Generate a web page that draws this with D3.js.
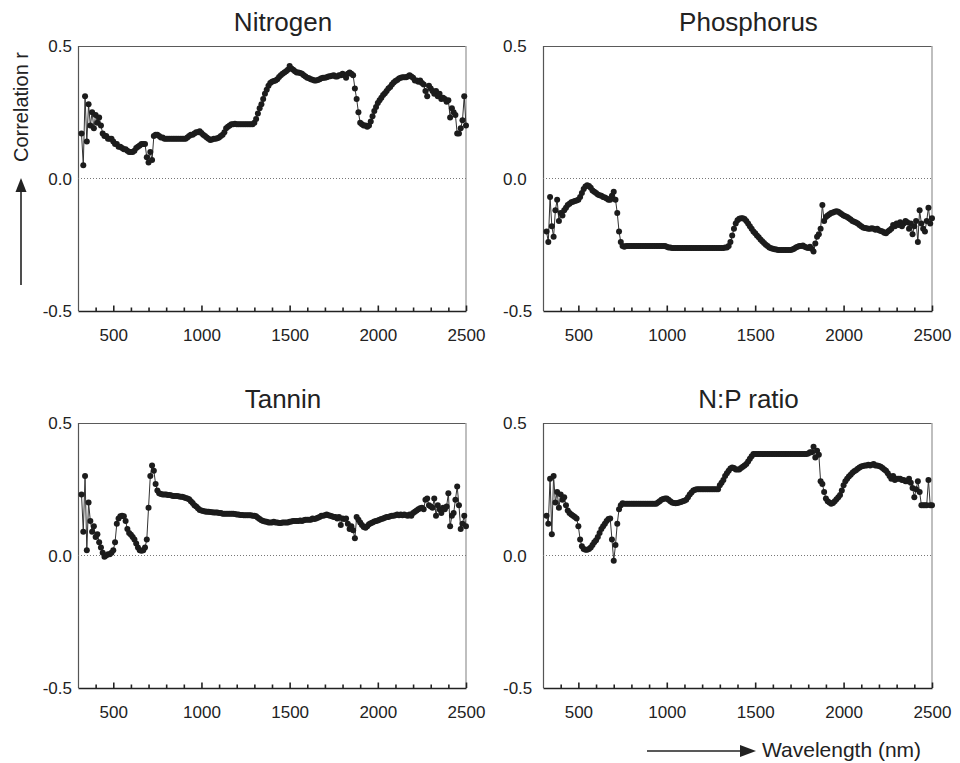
<!DOCTYPE html>
<html>
<head>
<meta charset="utf-8">
<script src="https://cdn.jsdelivr.net/npm/d3@7/dist/d3.min.js"></script>
<style>
  html, body { margin: 0; padding: 0; background: #fff; }
  svg { display: block; }
  text { font-family: "Liberation Sans", Arial, sans-serif; fill: #222; }
</style>
</head>
<body>
<svg id="chart" width="960" height="763"></svg>
<script>
// ---------- data ----------
const wavelengths = d3.range(320, 2501, 10); // nm, 320..2500

const nitrogen = [
  0.17, 0.05, 0.31, 0.14, 0.28, 0.20, 0.25, 0.19,
  0.24, 0.21, 0.23, 0.20, 0.17, 0.16, 0.16, 0.15, 0.15, 0.15,
  0.14, 0.13, 0.13, 0.12, 0.12, 0.115, 0.11, 0.11, 0.105, 0.10,
  0.10, 0.10, 0.105, 0.115, 0.12, 0.125, 0.13, 0.13, 0.13, 0.08,
  0.06, 0.10, 0.07, 0.16, 0.165, 0.165, 0.16, 0.155, 0.155, 0.15,
  0.15, 0.15, 0.15, 0.15, 0.15, 0.15, 0.15, 0.15, 0.15, 0.15,
  0.15, 0.15, 0.155, 0.16, 0.165, 0.165, 0.17, 0.175, 0.175, 0.178,
  0.172, 0.165, 0.16, 0.155, 0.15, 0.145, 0.147, 0.15, 0.15, 0.152,
  0.155, 0.16, 0.165, 0.175, 0.19, 0.195, 0.20, 0.205, 0.205, 0.207,
  0.205, 0.205, 0.205, 0.205, 0.205, 0.205, 0.205, 0.205, 0.205, 0.205,
  0.21, 0.225, 0.245, 0.265, 0.28, 0.30, 0.32, 0.335, 0.35, 0.36,
  0.365, 0.368, 0.37, 0.375, 0.383, 0.39, 0.395, 0.40, 0.405, 0.41,
  0.425, 0.415, 0.41, 0.405, 0.40, 0.40, 0.398, 0.395, 0.39, 0.385,
  0.38, 0.378, 0.375, 0.373, 0.37, 0.37, 0.372, 0.375, 0.378, 0.38,
  0.38, 0.382, 0.385, 0.386, 0.388, 0.39, 0.385, 0.385, 0.39, 0.39,
  0.395, 0.39, 0.38, 0.395, 0.40, 0.395, 0.39, 0.34, 0.30, 0.25,
  0.21, 0.205, 0.20, 0.20, 0.195, 0.20, 0.215, 0.235, 0.255, 0.27,
  0.285, 0.295, 0.305, 0.315, 0.322, 0.33, 0.34, 0.345, 0.355, 0.362,
  0.368, 0.372, 0.377, 0.38, 0.382, 0.382, 0.382, 0.385, 0.39, 0.385,
  0.38, 0.37, 0.37, 0.365, 0.37, 0.36, 0.355, 0.33, 0.31, 0.35,
  0.34, 0.33, 0.32, 0.33, 0.31, 0.32, 0.30, 0.305, 0.30, 0.29,
  0.295, 0.23, 0.265, 0.25, 0.24, 0.17, 0.17, 0.19, 0.22, 0.31,
  0.20
];

const phosphorus = [
  -0.20, -0.24, -0.07, -0.18, -0.22, -0.12, -0.08, -0.16,
  -0.13, -0.14, -0.12, -0.11, -0.10, -0.095, -0.09, -0.088, -0.085, -0.083,
  -0.08, -0.07, -0.055, -0.04, -0.03, -0.025, -0.028, -0.035, -0.045, -0.05,
  -0.055, -0.06, -0.063, -0.065, -0.07, -0.072, -0.075, -0.08, -0.08, -0.065,
  -0.05, -0.08, -0.13, -0.20, -0.24, -0.255, -0.258, -0.255, -0.255, -0.255,
  -0.255, -0.255, -0.255, -0.255, -0.255, -0.255, -0.255, -0.255, -0.255, -0.255,
  -0.255, -0.255, -0.255, -0.255, -0.255, -0.255, -0.255, -0.255, -0.255, -0.255,
  -0.258, -0.26, -0.26, -0.262, -0.262, -0.262, -0.262, -0.262, -0.262, -0.262,
  -0.262, -0.262, -0.262, -0.262, -0.262, -0.262, -0.262, -0.262, -0.262, -0.262,
  -0.262, -0.262, -0.262, -0.262, -0.262, -0.262, -0.262, -0.262, -0.262, -0.262,
  -0.262, -0.262, -0.262, -0.26, -0.26, -0.255, -0.24, -0.215, -0.19, -0.17,
  -0.158, -0.152, -0.15, -0.15, -0.153, -0.16, -0.17, -0.18, -0.19, -0.20,
  -0.207, -0.215, -0.222, -0.23, -0.237, -0.243, -0.25, -0.255, -0.26, -0.263,
  -0.265, -0.267, -0.268, -0.27, -0.27, -0.27, -0.27, -0.27, -0.27, -0.27,
  -0.27, -0.268, -0.265, -0.26, -0.258, -0.255, -0.255, -0.253, -0.258, -0.26,
  -0.262, -0.258, -0.265, -0.275, -0.245, -0.22, -0.21, -0.19, -0.10, -0.16,
  -0.145, -0.14, -0.135, -0.13, -0.128, -0.125, -0.124, -0.125, -0.13, -0.135,
  -0.14, -0.142, -0.145, -0.15, -0.155, -0.16, -0.163, -0.166, -0.17, -0.175,
  -0.18, -0.185, -0.187, -0.188, -0.19, -0.19, -0.188, -0.19, -0.193, -0.19,
  -0.195, -0.198, -0.20, -0.205, -0.207, -0.20, -0.195, -0.19, -0.175, -0.18,
  -0.17, -0.175, -0.165, -0.18, -0.17, -0.16, -0.165, -0.19, -0.17, -0.21,
  -0.18, -0.16, -0.24, -0.12, -0.17, -0.19, -0.20, -0.16, -0.11, -0.17,
  -0.15
];

const tannin = [
  0.23, 0.09, 0.30, 0.02, 0.20, 0.13, 0.09, 0.11,
  0.07, 0.08, 0.05, 0.03, 0.01, -0.005, 0.0, 0.005, 0.005, 0.01,
  0.02, 0.05, 0.12, 0.14, 0.148, 0.15, 0.148, 0.13, 0.10, 0.085,
  0.078, 0.07, 0.06, 0.045, 0.03, 0.02, 0.018, 0.02, 0.03, 0.06,
  0.18, 0.30, 0.34, 0.32, 0.27, 0.245, 0.235, 0.232, 0.23, 0.23,
  0.23, 0.228, 0.228, 0.226, 0.225, 0.225, 0.225, 0.224, 0.222, 0.222,
  0.22, 0.217, 0.215, 0.212, 0.205, 0.198, 0.19, 0.185, 0.178, 0.172,
  0.17, 0.168, 0.166, 0.165, 0.165, 0.164, 0.163, 0.162, 0.162, 0.162,
  0.16, 0.16, 0.158, 0.158, 0.158, 0.158, 0.158, 0.158, 0.158, 0.157,
  0.155, 0.155, 0.153, 0.153, 0.152, 0.152, 0.152, 0.152, 0.152, 0.15,
  0.15, 0.148, 0.142, 0.138, 0.133, 0.13, 0.128, 0.127, 0.125, 0.125,
  0.125, 0.127, 0.125, 0.125, 0.123, 0.123, 0.125, 0.125, 0.125, 0.125,
  0.127, 0.128, 0.13, 0.13, 0.13, 0.13, 0.132, 0.13, 0.133, 0.135,
  0.135, 0.135, 0.135, 0.14, 0.138, 0.14, 0.142, 0.145, 0.15, 0.15,
  0.152, 0.155, 0.152, 0.15, 0.148, 0.145, 0.145, 0.14, 0.145, 0.115,
  0.14, 0.138, 0.14, 0.12, 0.10, 0.11, 0.095, 0.065, 0.145, 0.135,
  0.125, 0.115, 0.108, 0.105, 0.11, 0.118, 0.122, 0.125, 0.128, 0.13,
  0.132, 0.135, 0.138, 0.14, 0.142, 0.145, 0.145, 0.148, 0.15, 0.15,
  0.152, 0.155, 0.152, 0.155, 0.152, 0.155, 0.152, 0.15, 0.155, 0.15,
  0.16, 0.165, 0.17, 0.175, 0.178, 0.18, 0.175, 0.21, 0.215, 0.19,
  0.185, 0.18, 0.215, 0.15, 0.19, 0.175, 0.16, 0.18, 0.175, 0.185,
  0.235, 0.11, 0.15, 0.16, 0.21, 0.26, 0.19, 0.10, 0.12, 0.15,
  0.11
];

const npRatio = [
  0.15, 0.12, 0.29, 0.08, 0.30, 0.20, 0.24, 0.18,
  0.23, 0.21, 0.22, 0.19, 0.17, 0.16, 0.155, 0.15, 0.145, 0.14,
  0.11, 0.06, 0.035, 0.025, 0.022, 0.022, 0.025, 0.03, 0.04, 0.05,
  0.058, 0.07, 0.085, 0.10, 0.11, 0.12, 0.13, 0.138, 0.14, 0.06,
  -0.02, 0.04, 0.12, 0.175, 0.19, 0.197, 0.195, 0.195, 0.195, 0.195,
  0.195, 0.195, 0.195, 0.195, 0.195, 0.195, 0.195, 0.195, 0.195, 0.195,
  0.195, 0.195, 0.195, 0.195, 0.195, 0.20, 0.205, 0.21, 0.213, 0.215,
  0.215, 0.21, 0.205, 0.20, 0.198, 0.197, 0.198, 0.20, 0.202, 0.205,
  0.207, 0.21, 0.22, 0.23, 0.238, 0.245, 0.248, 0.25, 0.25, 0.25,
  0.25, 0.25, 0.25, 0.25, 0.25, 0.25, 0.25, 0.25, 0.25, 0.25,
  0.265, 0.275, 0.285, 0.30, 0.31, 0.32, 0.328, 0.332, 0.33, 0.325,
  0.325, 0.325, 0.33, 0.335, 0.34, 0.345, 0.355, 0.365, 0.375, 0.383,
  0.383, 0.383, 0.383, 0.383, 0.383, 0.383, 0.383, 0.383, 0.383, 0.383,
  0.383, 0.383, 0.383, 0.383, 0.383, 0.383, 0.383, 0.383, 0.383, 0.383,
  0.383, 0.383, 0.383, 0.383, 0.383, 0.383, 0.383, 0.383, 0.383, 0.383,
  0.385, 0.39, 0.39, 0.41, 0.37, 0.395, 0.38, 0.28, 0.27, 0.24,
  0.215, 0.205, 0.20, 0.195, 0.198, 0.205, 0.212, 0.22, 0.228, 0.245,
  0.265, 0.28, 0.29, 0.298, 0.305, 0.312, 0.318, 0.322, 0.327, 0.332,
  0.336, 0.338, 0.34, 0.34, 0.342, 0.34, 0.342, 0.345, 0.34, 0.34,
  0.338, 0.335, 0.33, 0.325, 0.32, 0.31, 0.30, 0.29, 0.30, 0.285,
  0.29, 0.29, 0.29, 0.285, 0.285, 0.28, 0.28, 0.29, 0.275, 0.255,
  0.22, 0.25, 0.28, 0.24, 0.19, 0.19, 0.19, 0.19, 0.285, 0.19,
  0.19
];

const panelTitles = ["Nitrogen", "Phosphorus", "Tannin", "N:P ratio"];
const panelSeries = [nitrogen, phosphorus, tannin, npRatio];
const xDomain = [300, 2500];
const yDomain = [-0.5, 0.5];
const yTickValues = [-0.5, 0.0, 0.5];
const xMinorTicks = d3.range(400, 2501, 100);
const xLabelTicks = [500, 1000, 1500, 2000, 2500];
const yAxisTitle = "Correlation r";
const xAxisTitle = "Wavelength (nm)";

// ---------- layout ----------
const panels = [
  {left: 78,  top: 46,  width: 388, height: 265, yLab: "end"},
  {left: 543, top: 46,  width: 389, height: 265, yLab: "start"},
  {left: 78,  top: 423, width: 388, height: 265, yLab: "end"},
  {left: 543, top: 423, width: 389, height: 265, yLab: "start"}
];

const svg = d3.select("#chart");

panels.forEach((p, i) => {
  const vals = panelSeries[i];
  const n = Math.min(vals.length, wavelengths.length);
  const data = d3.range(n).map(k => ({w: wavelengths[k], r: vals[k]}));

  const x = d3.scaleLinear().domain(xDomain).range([0, p.width]);
  const y = d3.scaleLinear().domain(yDomain).range([p.height, 0]);

  const g = svg.append("g").attr("transform", `translate(${p.left},${p.top})`);

  // frame: top (dark grey), right (light grey), left (dark)
  g.append("line").attr("x1", 0).attr("x2", p.width).attr("y1", 0.5).attr("y2", 0.5)
    .attr("stroke", "#5a5a5a").attr("stroke-width", 1.2);
  g.append("line").attr("x1", p.width).attr("x2", p.width).attr("y1", 0).attr("y2", p.height)
    .attr("stroke", "#aaaaaa").attr("stroke-width", 1.5);
  g.append("line").attr("x1", 0.5).attr("x2", 0.5).attr("y1", 0).attr("y2", p.height)
    .attr("stroke", "#555").attr("stroke-width", 1.2);

  // zero line dotted
  g.append("line").attr("x1", 0).attr("x2", p.width).attr("y1", y(0)).attr("y2", y(0))
    .attr("stroke", "#777").attr("stroke-width", 1).attr("stroke-dasharray", "1,2");

  // x axis
  const xAxis = d3.axisBottom(x).tickValues(xMinorTicks).tickSizeInner(-3).tickSizeOuter(0)
    .tickPadding(18)
    .tickFormat(d => xLabelTicks.includes(d) ? String(d) : "");
  const ax = g.append("g").attr("transform", `translate(0,${p.height})`).call(xAxis);
  ax.select(".domain").attr("stroke", "#222").attr("stroke-width", 1.3);
  ax.selectAll(".tick line").attr("stroke", "#222").attr("stroke-width", 1.6)
    .attr("y2", d => xLabelTicks.includes(d) ? -5.5 : -3.5);
  ax.selectAll(".tick text").attr("font-size", 17).attr("fill", "#222")
    .attr("font-family", "'Liberation Sans', Arial, sans-serif");

  // y labels
  g.selectAll("text.ylab").data(yTickValues).enter().append("text")
    .attr("class", "ylab")
    .attr("x", p.yLab === "end" ? -6 : -40)
    .attr("y", d => y(d))
    .attr("dy", "0.36em")
    .attr("text-anchor", p.yLab)
    .attr("font-size", 17)
    .text(d => d.toFixed(1));

  // title
  g.append("text").attr("x", p.width / 2 + 11).attr("y", -15)
    .attr("text-anchor", "middle").attr("font-size", 26).text(panelTitles[i]);

  // series line + points
  const line = d3.line().x(d => x(d.w)).y(d => y(d.r));
  g.append("path").datum(data).attr("d", line)
    .attr("fill", "none").attr("stroke", "#333").attr("stroke-width", 1);
  g.selectAll("circle").data(data).enter().append("circle")
    .attr("cx", d => x(d.w)).attr("cy", d => y(d.r)).attr("r", 3)
    .attr("fill", "#1c1c1c");
});

// y axis title with arrow
svg.append("line").attr("x1", 21).attr("x2", 21).attr("y1", 285).attr("y2", 190)
  .attr("stroke", "#222").attr("stroke-width", 1.6);
svg.append("path").attr("d", "M21,178 L15.5,192 L26.5,192 Z").attr("fill", "#222");
svg.append("text").attr("transform", "translate(28,107) rotate(-90)")
  .attr("text-anchor", "middle").attr("font-size", 20).text(yAxisTitle);

// x axis title with arrow
svg.append("line").attr("x1", 647).attr("x2", 742).attr("y1", 751).attr("y2", 751)
  .attr("stroke", "#222").attr("stroke-width", 1.4);
svg.append("path").attr("d", "M756,751 L740,745 L740,757 Z").attr("fill", "#222");
svg.append("text").attr("x", 762).attr("y", 757).attr("font-size", 21).text(xAxisTitle);
</script>
</body>
</html>
